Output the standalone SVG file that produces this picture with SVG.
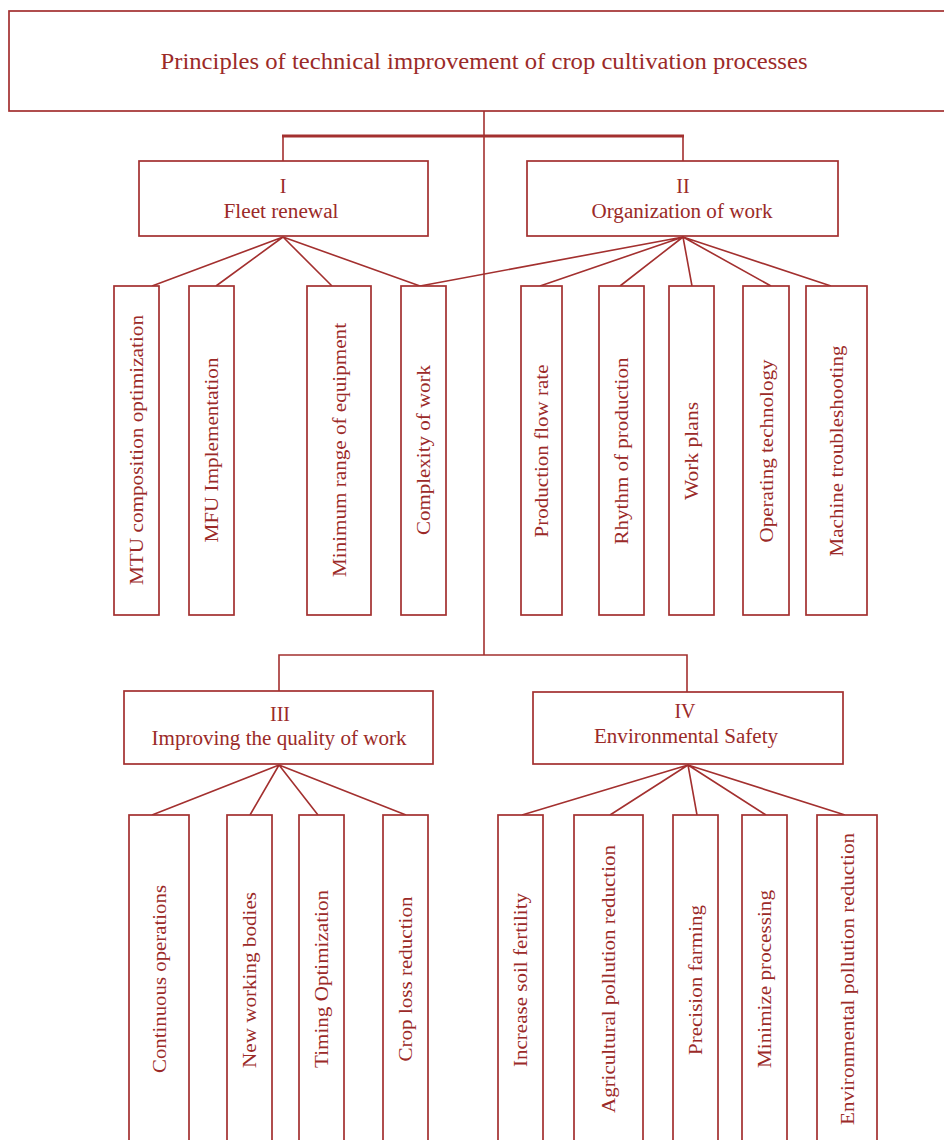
<svg xmlns="http://www.w3.org/2000/svg" width="944" height="1140" viewBox="0 0 944 1140">
<style>
.box{fill:#fff;stroke:#a3302f;stroke-width:1.7}
.ln{fill:none;stroke:#a3302f;stroke-width:1.6}
.t{font-family:"Liberation Serif","Times New Roman",serif;fill:#9b2a28;font-size:20px;text-anchor:middle}
.v{font-family:"Liberation Serif","Times New Roman",serif;fill:#9b2a28;font-size:19px;text-anchor:middle}
</style>
<rect width="944" height="1140" fill="#fff"/>
<g id="connectors">
<path class="ln" d="M484,111 V655"/>
<path class="ln" d="M283,161 V136 M683,136 V161"/>
<path class="ln" style="stroke-width:3" d="M282,136 H684"/>
<path class="ln" d="M279,691 V655 H687 V692"/>
<path class="ln" d="M283,237 L152,286 M283,237 L216,286 M283,237 L332,286 M283,237 L420,286"/>
<path class="ln" d="M683,237 L420,286 M683,237 L540,286 M683,237 L620,286 M683,237 L692,286 M683,237 L771,286 M683,237 L831,286"/>
<path class="ln" d="M279,765 L152,815 M279,765 L250,815 M279,765 L318,815 M279,765 L406,815"/>
<path class="ln" d="M688,765 L522,815 M688,765 L610,815 M688,765 L697,815 M688,765 L766,815 M688,765 L845,815"/>
</g>
<g id="root">
<rect class="box" x="9" y="11" width="945" height="100"/>
<text class="t" x="484" y="69" style="font-size:24px" textLength="647" lengthAdjust="spacingAndGlyphs">Principles of technical improvement of crop cultivation processes</text>
</g>
<g id="n1">
<rect class="box" x="139" y="161" width="289" height="75"/>
<text class="t" x="283" y="193">I</text>
<text class="t" x="281" y="218" textLength="115" lengthAdjust="spacingAndGlyphs">Fleet renewal</text>
</g>
<g id="n2">
<rect class="box" x="527" y="161" width="311" height="75"/>
<text class="t" x="683" y="193">II</text>
<text class="t" x="682" y="218" textLength="181" lengthAdjust="spacingAndGlyphs">Organization of work</text>
</g>
<g id="n3">
<rect class="box" x="124" y="691" width="309" height="73"/>
<text class="t" x="280" y="721">III</text>
<text class="t" x="279" y="745" textLength="255" lengthAdjust="spacingAndGlyphs">Improving the quality of work</text>
</g>
<g id="n4">
<rect class="box" x="533" y="692" width="310" height="72"/>
<text class="t" x="685" y="718">IV</text>
<text class="t" x="686" y="743" textLength="184" lengthAdjust="spacingAndGlyphs">Environmental Safety</text>
</g>
<g id="a1"><rect class="box" x="114" y="286" width="45" height="329"/><text class="v" transform="translate(136.5,450) rotate(-90)" y="6.5" textLength="270" lengthAdjust="spacingAndGlyphs">MTU composition optimization</text></g>
<g id="a2"><rect class="box" x="189" y="286" width="45" height="329"/><text class="v" transform="translate(211.5,450) rotate(-90)" y="6.5" textLength="185" lengthAdjust="spacingAndGlyphs">MFU Implementation</text></g>
<g id="a3"><rect class="box" x="307" y="286" width="64" height="329"/><text class="v" transform="translate(339,450) rotate(-90)" y="6.5" textLength="254" lengthAdjust="spacingAndGlyphs">Minimum range of equipment</text></g>
<g id="a4"><rect class="box" x="401" y="286" width="45" height="329"/><text class="v" transform="translate(423.5,450) rotate(-90)" y="6.5" textLength="170" lengthAdjust="spacingAndGlyphs">Complexity of work</text></g>
<g id="b1"><rect class="box" x="521" y="286" width="41" height="329"/><text class="v" transform="translate(541.5,451) rotate(-90)" y="6.5" textLength="173" lengthAdjust="spacingAndGlyphs">Production flow rate</text></g>
<g id="b2"><rect class="box" x="599" y="286" width="45" height="329"/><text class="v" transform="translate(621.5,451) rotate(-90)" y="6.5" textLength="187" lengthAdjust="spacingAndGlyphs">Rhythm of production</text></g>
<g id="b3"><rect class="box" x="669" y="286" width="45" height="329"/><text class="v" transform="translate(691.5,451) rotate(-90)" y="6.5" textLength="98" lengthAdjust="spacingAndGlyphs">Work plans</text></g>
<g id="b4"><rect class="box" x="743" y="286" width="46" height="329"/><text class="v" transform="translate(766,451) rotate(-90)" y="6.5" textLength="183" lengthAdjust="spacingAndGlyphs">Operating technology</text></g>
<g id="b5"><rect class="box" x="806" y="286" width="61" height="329"/><text class="v" transform="translate(836.5,451) rotate(-90)" y="6.5" textLength="211" lengthAdjust="spacingAndGlyphs">Machine troubleshooting</text></g>
<g id="c1"><rect class="box" x="129" y="815" width="60" height="340"/><text class="v" transform="translate(159,979) rotate(-90)" y="6.5" textLength="188" lengthAdjust="spacingAndGlyphs">Continuous operations</text></g>
<g id="c2"><rect class="box" x="227" y="815" width="45" height="340"/><text class="v" transform="translate(249.5,980) rotate(-90)" y="6.5" textLength="176" lengthAdjust="spacingAndGlyphs">New working bodies</text></g>
<g id="c3"><rect class="box" x="299" y="815" width="45" height="340"/><text class="v" transform="translate(321.5,979) rotate(-90)" y="6.5" textLength="178" lengthAdjust="spacingAndGlyphs">Timing Optimization</text></g>
<g id="c4"><rect class="box" x="383" y="815" width="45" height="340"/><text class="v" transform="translate(405.5,979) rotate(-90)" y="6.5" textLength="165" lengthAdjust="spacingAndGlyphs">Crop loss reduction</text></g>
<g id="d1"><rect class="box" x="498" y="815" width="45" height="340"/><text class="v" transform="translate(520.5,980) rotate(-90)" y="6.5" textLength="174" lengthAdjust="spacingAndGlyphs">Increase soil fertility</text></g>
<g id="d2"><rect class="box" x="574" y="815" width="69" height="340"/><text class="v" transform="translate(608.5,979) rotate(-90)" y="6.5" textLength="268" lengthAdjust="spacingAndGlyphs">Agricultural pollution reduction</text></g>
<g id="d3"><rect class="box" x="673" y="815" width="45" height="340"/><text class="v" transform="translate(695.5,980) rotate(-90)" y="6.5" textLength="150" lengthAdjust="spacingAndGlyphs">Precision farming</text></g>
<g id="d4"><rect class="box" x="742" y="815" width="45" height="340"/><text class="v" transform="translate(764.5,979) rotate(-90)" y="6.5" textLength="178" lengthAdjust="spacingAndGlyphs">Minimize processing</text></g>
<g id="d5"><rect class="box" x="817" y="815" width="60" height="340"/><text class="v" transform="translate(847,979) rotate(-90)" y="6.5" textLength="292" lengthAdjust="spacingAndGlyphs">Environmental pollution reduction</text></g>
</svg>
